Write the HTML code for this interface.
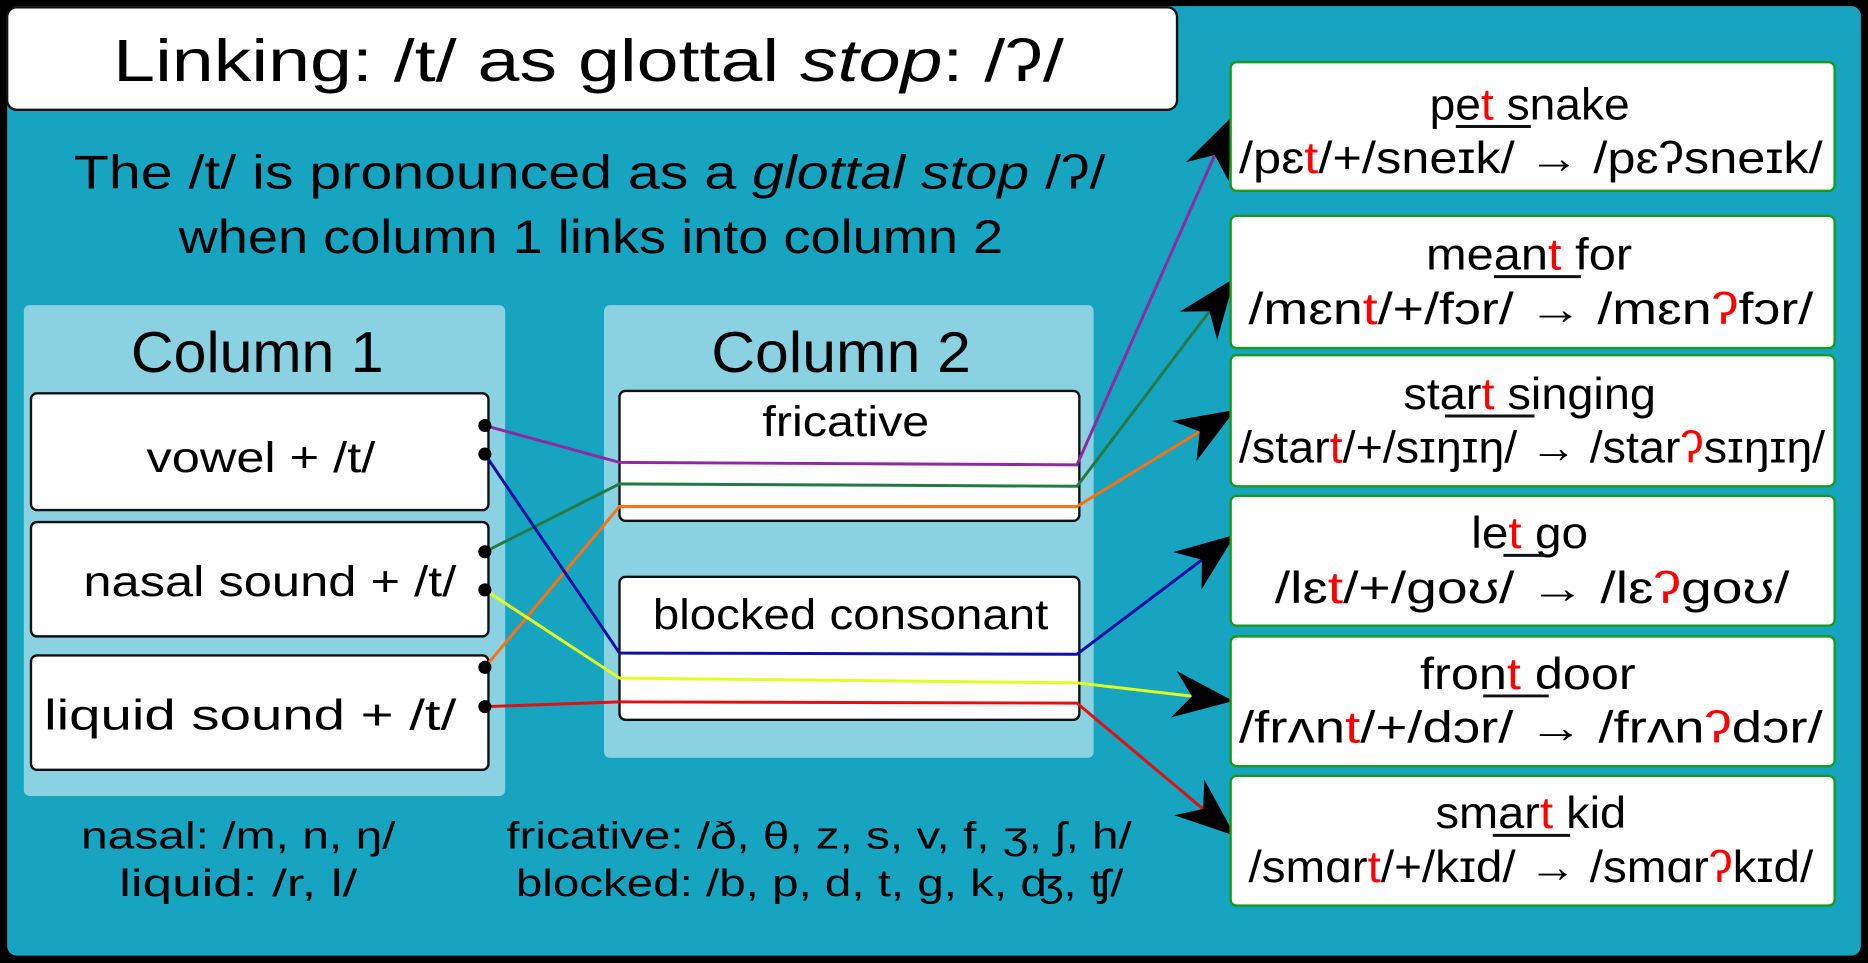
<!DOCTYPE html>
<html><head><meta charset="utf-8"><style>
html,body{margin:0;padding:0;background:#000;}
svg{display:block;}
text{font-family:"Liberation Sans","DejaVu Sans",sans-serif;fill:#000;}
</style></head><body>
<svg width="1868" height="963" viewBox="0 0 1568 808" xmlns="http://www.w3.org/2000/svg">
<defs>
<marker id="ah" markerUnits="userSpaceOnUse" markerWidth="60" markerHeight="60" refX="0" refY="0" viewBox="-50 -25 55 50" orient="auto">
<path d="M2,0 L-44,-18 L-30,0 L-44,18 Z" fill="#000"/>
</marker>
</defs>
<rect x="0" y="0" width="1568" height="808" fill="#000"/>
<rect x="6" y="5" width="1556" height="797" rx="8" fill="#16a4c0"/>
<rect x="6" y="6" width="982" height="86" rx="8" fill="#fff" stroke="#111" stroke-width="2"/>
<text x="95" y="68" font-size="50" textLength="798" lengthAdjust="spacingAndGlyphs">Linking: /t/ as glottal <tspan font-style="italic">stop</tspan>: /ʔ/</text>
<text x="62" y="158" font-size="40" textLength="866" lengthAdjust="spacingAndGlyphs">The /t/ is pronounced as a <tspan font-style="italic">glottal stop</tspan> /ʔ/</text>
<text x="150" y="212" font-size="40" textLength="692" lengthAdjust="spacingAndGlyphs">when column 1 links into column 2</text>
<rect x="20" y="256" width="404" height="412" rx="5" fill="#8ad2e2"/>
<rect x="507" y="256" width="411" height="380" rx="5" fill="#8ad2e2"/>
<text x="110" y="312" font-size="48" textLength="212" lengthAdjust="spacingAndGlyphs">Column 1</text>
<text x="597" y="312" font-size="48" textLength="218" lengthAdjust="spacingAndGlyphs">Column 2</text>
<rect x="26" y="330" width="384" height="98" rx="5" fill="#fff" stroke="#111" stroke-width="2"/>
<rect x="26" y="438" width="384" height="96" rx="5" fill="#fff" stroke="#111" stroke-width="2"/>
<rect x="26" y="550" width="384" height="96" rx="5" fill="#fff" stroke="#111" stroke-width="2"/>
<text x="123" y="396" font-size="36" textLength="192" lengthAdjust="spacingAndGlyphs">vowel + /t/</text>
<text x="70" y="500" font-size="36" textLength="313" lengthAdjust="spacingAndGlyphs">nasal sound + /t/</text>
<text x="37" y="612" font-size="36" textLength="346" lengthAdjust="spacingAndGlyphs">liquid sound + /t/</text>
<rect x="520" y="328" width="386" height="109" rx="5" fill="#fff" stroke="#111" stroke-width="2"/>
<rect x="520" y="484" width="386" height="120" rx="5" fill="#fff" stroke="#111" stroke-width="2"/>
<text x="640" y="366" font-size="36" textLength="140" lengthAdjust="spacingAndGlyphs">fricative</text>
<text x="548" y="528" font-size="36" textLength="332" lengthAdjust="spacingAndGlyphs">blocked consonant</text>
<g fill="none" stroke-width="2.5">
<polyline points="407,357 520,388 904,390 1033,100" stroke="#8e2aa0" marker-end="url(#ah)"/>
<polyline points="407,463 520,406 904,408 1035,235" stroke="#237a45" marker-end="url(#ah)"/>
<polyline points="407,560 520,425 904,425 1035,345" stroke="#ff7010" marker-end="url(#ah)"/>
<polyline points="407,381 520,548 904,549 1035,450" stroke="#1010a0" marker-end="url(#ah)"/>
<polyline points="407,495 520,569 904,573 1033,588" stroke="#e0ff20" marker-end="url(#ah)"/>
<polyline points="407,593 520,589 904,590 1035,700" stroke="#e01010" marker-end="url(#ah)"/>
</g>
<g fill="#000">
<circle cx="407" cy="357" r="5.5"/><circle cx="407" cy="381" r="5.5"/>
<circle cx="407" cy="463" r="5.5"/><circle cx="407" cy="495" r="5.5"/>
<circle cx="407" cy="560" r="5.5"/><circle cx="407" cy="593" r="5.5"/>
</g>
<g fill="#fff" stroke="#1a9a1a" stroke-width="2">
<rect x="1033" y="52" width="507" height="108" rx="5"/>
<rect x="1033" y="181" width="507" height="111" rx="5"/>
<rect x="1033" y="298" width="507" height="110" rx="5"/>
<rect x="1033" y="416" width="507" height="109" rx="5"/>
<rect x="1033" y="534" width="507" height="109" rx="5"/>
<rect x="1033" y="651" width="507" height="109" rx="5"/>
</g>
<g font-size="37" lengthAdjust="spacingAndGlyphs">
<text x="1200" y="100" textLength="168" lengthAdjust="spacingAndGlyphs">pe<tspan fill="#f00">t</tspan> snake</text>
<text x="1040" y="145" textLength="490" lengthAdjust="spacingAndGlyphs">/pɛ<tspan fill="#f00">t</tspan>/+/sneɪk/ → /pɛʔsneɪk/</text>
<text x="1197" y="226" textLength="173" lengthAdjust="spacingAndGlyphs">mean<tspan fill="#f00">t</tspan> for</text>
<text x="1048" y="272" textLength="474" lengthAdjust="spacingAndGlyphs">/mɛn<tspan fill="#f00">t</tspan>/+/fɔr/ → /mɛn<tspan fill="#f00">ʔ</tspan>fɔr/</text>
<text x="1178" y="343" textLength="212" lengthAdjust="spacingAndGlyphs">star<tspan fill="#f00">t</tspan> singing</text>
<text x="1040" y="388" textLength="492" lengthAdjust="spacingAndGlyphs">/star<tspan fill="#f00">t</tspan>/+/sɪŋɪŋ/ → /star<tspan fill="#f00">ʔ</tspan>sɪŋɪŋ/</text>
<text x="1235" y="460" textLength="98" lengthAdjust="spacingAndGlyphs">le<tspan fill="#f00">t</tspan> go</text>
<text x="1070" y="506" textLength="432" lengthAdjust="spacingAndGlyphs">/lɛ<tspan fill="#f00">t</tspan>/+/goʊ/ → /lɛ<tspan fill="#f00">ʔ</tspan>goʊ/</text>
<text x="1192" y="578" textLength="181" lengthAdjust="spacingAndGlyphs">fron<tspan fill="#f00">t</tspan> door</text>
<text x="1040" y="623" textLength="490" lengthAdjust="spacingAndGlyphs">/frʌn<tspan fill="#f00">t</tspan>/+/dɔr/ → /frʌn<tspan fill="#f00">ʔ</tspan>dɔr/</text>
<text x="1205" y="695" textLength="160" lengthAdjust="spacingAndGlyphs">smar<tspan fill="#f00">t</tspan> kid</text>
<text x="1048" y="740" textLength="474" lengthAdjust="spacingAndGlyphs">/smɑr<tspan fill="#f00">t</tspan>/+/kɪd/ → /smɑr<tspan fill="#f00">ʔ</tspan>kɪd/</text>
</g>
<g stroke="#111" stroke-width="2.5">
<line x1="1222" y1="106" x2="1285" y2="106"/>
<line x1="1254" y1="232" x2="1327" y2="232"/>
<line x1="1213" y1="349" x2="1288" y2="349"/>
<line x1="1262" y1="466" x2="1297" y2="466"/>
<line x1="1245" y1="584" x2="1300" y2="584"/>
<line x1="1253" y1="701" x2="1318" y2="701"/>
</g>
<g font-size="32">
<text x="68" y="712" textLength="264" lengthAdjust="spacingAndGlyphs">nasal: /m, n, ŋ/</text>
<text x="100" y="752" textLength="200" lengthAdjust="spacingAndGlyphs">liquid: /r, l/</text>
<text x="425" y="712" textLength="525" lengthAdjust="spacingAndGlyphs">fricative: /ð, θ, z, s, v, f, ʒ, ʃ, h/</text>
<text x="433" y="752" textLength="510" lengthAdjust="spacingAndGlyphs">blocked: /b, p, d, t, g, k, ʤ, ʧ/</text>
</g>
</svg>
</body></html>
